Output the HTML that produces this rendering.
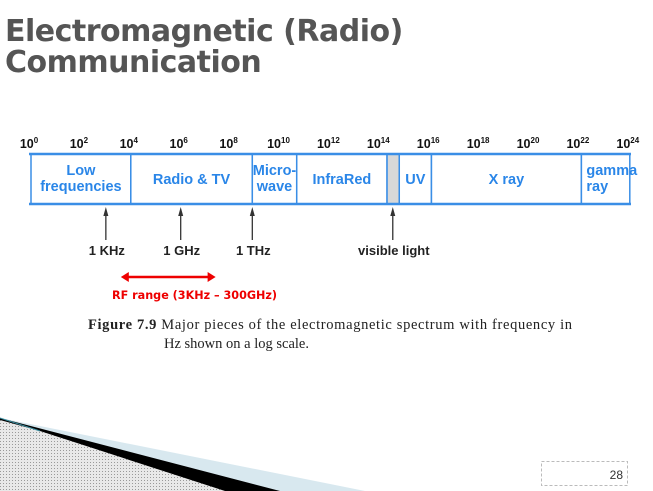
<!DOCTYPE html>
<html><head><meta charset="utf-8"><style>
body{margin:0;width:653px;height:491px;overflow:hidden;background:#fff;position:relative;font-family:"Liberation Sans",sans-serif}
h1{position:absolute;left:5px;top:16px;margin:0;font:bold 30px/31px "DejaVu Sans","Liberation Sans",sans-serif;color:#555;letter-spacing:-0.5px}
</style></head><body>
<h1>Electromagnetic (Radio)<br>Communication</h1>
<svg id="c" width="653" height="491" style="position:absolute;left:0;top:0">
<defs><pattern id="dots" width="3" height="3" patternUnits="userSpaceOnUse"><rect width="3" height="3" fill="#e8e8e8"/><rect width="1" height="1" fill="#999"/></pattern></defs>
</svg>
<script>
const exps=[0,2,4,6,8,10,12,14,16,18,20,22,24];
const bands=[{s:0,e:4,l:["Low","frequencies"]},{s:4,e:8.87,l:["Radio & TV"]},{s:8.87,e:10.65,l:["Micro-","wave"]},{s:10.65,e:14.27,l:["InfraRed"]},{s:14.27,e:14.76,l:[],gray:true},{s:14.76,e:16.05,l:["UV"]},{s:16.05,e:22.06,l:["X ray"]},{s:22.06,e:24,l:["gamma","ray"],left:true}];
const markers=[{e:3,t:"1 KHz"},{e:6,t:"1 GHz"},{e:8.87,t:"1 THz"},{e:14.5,t:"visible light"}];
const rfRange=[3.6,7.4];
const X=e=>31+e*24.95;
const svg=document.getElementById('c');const NS="http://www.w3.org/2000/svg";
function mk(t,a,txt){const el=document.createElementNS(NS,t);for(const k in a)el.setAttribute(k,a[k]);if(txt!=null)el.textContent=txt;svg.appendChild(el);return el;}
exps.forEach(e=>{const t=mk('text',{x:X(e)-2,y:148,'text-anchor':'middle','font-size':'12.5','font-weight':'bold',fill:'#111'});

const a=document.createElementNS(NS,'tspan');a.textContent='10';t.appendChild(a);const b=document.createElementNS(NS,'tspan');b.setAttribute('dy','-5');b.setAttribute('font-size','8');b.textContent=e;t.appendChild(b);});
bands.forEach(b=>{const x0=X(b.s),x1=X(b.e);
const r=mk('rect',{x:x0,y:154,width:x1-x0,height:50,fill:b.gray?'#d8d8d8':'#fff',stroke:'#3a8ee6','stroke-width':1.5});

const n=b.l.length;b.l.forEach((s,i)=>{const t=mk('text',{x:b.left?x0+5:(x0+x1)/2,y:(n==1?184:175+i*16),'text-anchor':b.left?'start':'middle','font-size':'14.5','font-weight':'bold',fill:'#2a86e8'},s);
});});
mk('line',{x1:29,y1:154,x2:631,y2:154,stroke:'#3a8ee6','stroke-width':2.5});
mk('line',{x1:29,y1:204,x2:631,y2:204,stroke:'#3a8ee6','stroke-width':2.5});
markers.forEach(m=>{const x=X(m.e);mk('line',{x1:x,y1:214,x2:x,y2:240,stroke:'#333','stroke-width':1.3});
mk('path',{d:`M${x-2.5},216 L${x},207 L${x+2.5},216Z`,fill:'#333'});
const t=mk('text',{x:x+1,y:255,'text-anchor':'middle','font-size':'13','font-weight':'bold',fill:'#222'},m.t);
});
const r0=X(rfRange[0]),r1=X(rfRange[1]);
const ra=mk('line',{x1:r0+5,y1:277,x2:r1-5,y2:277,stroke:'#e00','stroke-width':2.5});

mk('path',{d:`M${r0},277 L${r0+8},272 L${r0+8},282Z`,fill:'#e00'});
mk('path',{d:`M${r1},277 L${r1-8},272 L${r1-8},282Z`,fill:'#e00'});
const rt=mk('text',{x:112,y:299,'font-size':'11.2','font-weight':'bold',fill:'#e00','font-family':'DejaVu Sans, sans-serif'},"RF range (3KHz – 300GHz)");

const c1=mk('text',{x:88,y:329,'font-size':'14.5','font-family':'Liberation Serif, serif',fill:'#222',textLength:484},"");
c1.innerHTML='<tspan font-weight="bold">Figure 7.9</tspan> Major pieces of the electromagnetic spectrum with frequency in';

mk('text',{x:164,y:348,'font-size':'14.5','font-family':'Liberation Serif, serif',fill:'#222'},"Hz shown on a log scale.");
mk('path',{d:'M0,418 L365,491 L0,491Z',fill:'#d8e8ef'});
mk('path',{d:'M0,418 L280,491 L0,491Z',fill:'#000'});
mk('path',{d:'M0,420 L40,431 L225,491 L0,491Z',fill:'url(#dots)'});
mk('line',{x1:0,y1:418,x2:40,y2:431,stroke:'#3b8ea0','stroke-width':1});
const pb=mk('rect',{x:541.5,y:461.5,width:86,height:24,fill:'none',stroke:'#bbb','stroke-dasharray':'3,2'});

const pn=mk('text',{x:623,y:479,'text-anchor':'end','font-size':'12',fill:'#333'},"28");

</script>
</body></html>
